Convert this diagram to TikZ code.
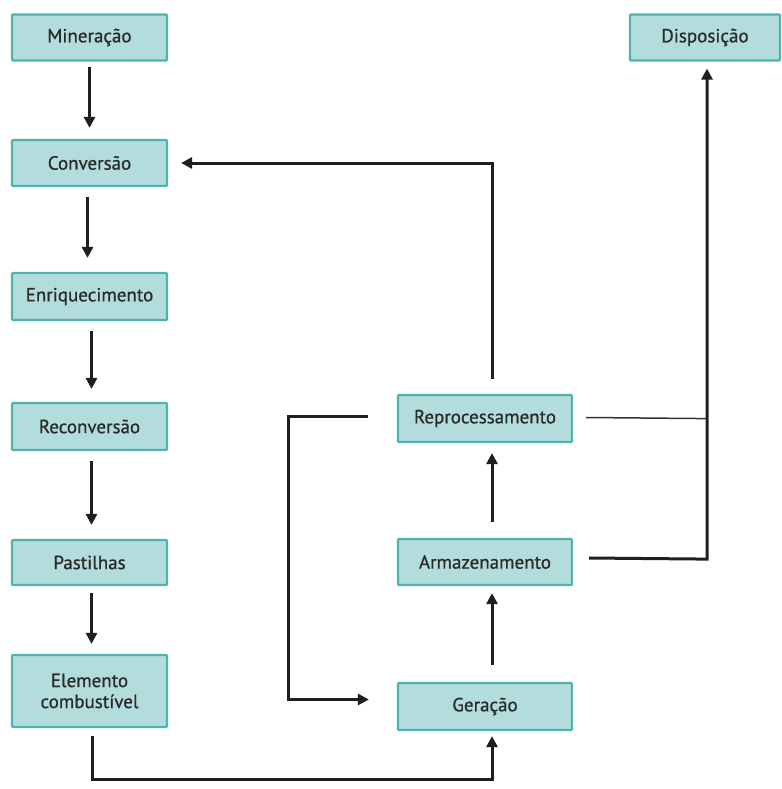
\documentclass[tikz,border=0pt]{standalone}
\usepackage{fontspec}
\setmainfont{PT Sans}
\newfontfamily\boxfont[FakeBold=0.7]{PT Sans}
\usetikzlibrary{arrows.meta,calc}
\definecolor{boxfill}{HTML}{B3DCDC}
\definecolor{boxline}{HTML}{4DB3AF}
\definecolor{txt}{HTML}{2A2A2A}
\begin{document}
\begin{tikzpicture}[x=1pt,y=-1pt,
  box/.style={draw=boxline,fill=boxfill,line width=2.2pt,rounded corners=1pt,
    text=txt,font=\boxfont\fontsize{19}{21}\selectfont,align=center,inner sep=0pt},
  arr/.style={draw=black!88,line width=3pt,-{Triangle[length=11pt,width=11pt]}},
  thin/.style={draw=black!80,line width=1.5pt}]
\useasboundingbox (0,0) rectangle (781,789);
% left column
\node[box,minimum width=155pt,minimum height=46pt] (min) at (89.5,37.5) {Mineração};
\node[box,minimum width=155pt,minimum height=46pt] (con) at (89.5,163) {Conversão};
\node[box,minimum width=155pt,minimum height=47pt] (enr) at (89.5,296.5) {Enriquecimento};
\node[box,minimum width=155pt,minimum height=47pt] (rec) at (89.5,426.5) {Reconversão};
\node[box,minimum width=155pt,minimum height=45pt] (pas) at (89.5,562.5) {Pastilhas};
\node[box,minimum width=155pt,minimum height=72pt] (ele) at (89.5,691) {Elemento\\combustível};
% right column
\node[box,minimum width=150pt,minimum height=46pt] (dis) at (705,37.5) {Disposição};
\node[box,minimum width=174pt,minimum height=47pt] (rep) at (485,418.5) {Reprocessamento};
\node[box,minimum width=174pt,minimum height=46pt] (arm) at (485,562) {Armazenamento};
\node[box,minimum width=174pt,minimum height=47pt] (ger) at (485,706.5) {Geração};
% left arrows
\draw[arr,shorten <=5pt,shorten >=11pt] (min.south) -- (con.north);
\draw[arr,shorten <=10pt,shorten >=14pt] ([xshift=-2pt]con.south) -- ([xshift=-2pt]enr.north);
\draw[arr,shorten <=10pt,shorten >=13pt] ([xshift=2pt]enr.south) -- ([xshift=2pt]rec.north);
\draw[arr,shorten <=10pt,shorten >=14pt] ([xshift=2pt]rec.south) -- ([xshift=2pt]pas.north);
\draw[arr,shorten <=7pt,shorten >=10pt] ([xshift=2pt]pas.south) -- ([xshift=2pt]ele.north);
% bottom loop
\coordinate (b0) at ($(ele.south)+(2.5,8)$);
\coordinate (b1) at ($(ele.south)+(2.5,51)$);
\coordinate (b2) at ($(ger.south)+(7,48)$);
\coordinate (b3) at ($(ger.south)+(7,0)$);
\draw[arr,shorten >=5pt] (b0) -- (b1) -- (b2) -- (b3);
% up arrows right column
\draw[arr,shorten <=17pt,shorten >=7pt] ($(ger.north)+(7,0)$) -- ($(arm.south)+(7,0)$);
\draw[arr,shorten <=16pt,shorten >=10pt] ($(arm.north)+(7,0)$) -- ($(rep.south)+(7,0)$);
% reprocessamento to conversao
\coordinate (r0) at ($(rep.north)+(7,-15)$);
\coordinate (r1a) at ($(rep.north)+(7,0)$);
\coordinate (r1) at (r1a |- con.east);
\draw[arr,shorten >=13pt] (r0) -- (r1) -- (con.east);
% reprocessamento to geracao loop
\coordinate (l0) at ($(rep.west)+(-29,-2.5)$);
\coordinate (l1) at ($(rep.west)+(-108,-2.5)$);
\coordinate (l2) at ($(ger.west)+(-108,-7)$);
\coordinate (l3) at ($(ger.west)+(0,-7)$);
\draw[arr,shorten >=28pt] (l0) -- (l1) -- (l2) -- (l3);
% to disposicao
\coordinate (t0) at ($(rep.east)+(13,-1)$);
\coordinate (d1) at ($(dis.south)+(2,357)$);
\coordinate (a0) at ($(arm.east)+(16,-4)$);
\coordinate (d2) at ($(dis.south)+(2,497.5)$);
\draw[thin] (t0) -- (d1);
\draw[arr,shorten >=7pt] (a0) -- (d2) -- ($(dis.south)+(2,0)$);
\end{tikzpicture}
\end{document}
